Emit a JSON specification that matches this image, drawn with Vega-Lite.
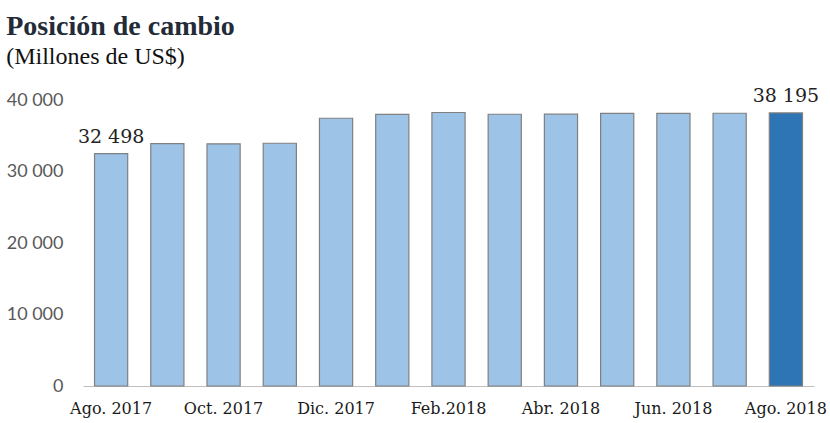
{
  "$schema": "https://vega.github.io/schema/vega-lite/v6.json",
  "width": 731,
  "height": 286,
  "autosize": "none",
  "padding": {"left": 83, "top": 100, "right": 16, "bottom": 37},
  "background": "white",
  "config": {
    "view": {"stroke": null},
    "locale": {
      "number": {"decimal": ",", "thousands": " ", "grouping": [3], "currency": ["", " US$"]}
    }
  },
  "title": {
    "text": "Posición de cambio",
    "subtitle": "(Millones de US$)",
    "anchor": "start",
    "frame": "bounds",
    "font": "Liberation Serif",
    "fontSize": 28,
    "fontWeight": "bold",
    "color": "#232b38",
    "subtitleFont": "Liberation Serif",
    "subtitleFontSize": 24,
    "subtitleColor": "#111111",
    "subtitlePadding": 4,
    "offset": 18
  },
  "data": {
    "values": [
      {"mes": "Ago. 2017", "valor": 32498, "ultimo": false, "etiqueta": true},
      {"mes": "Set. 2017", "valor": 33900, "ultimo": false, "etiqueta": false},
      {"mes": "Oct. 2017", "valor": 33870, "ultimo": false, "etiqueta": false},
      {"mes": "Nov. 2017", "valor": 33950, "ultimo": false, "etiqueta": false},
      {"mes": "Dic. 2017", "valor": 37450, "ultimo": false, "etiqueta": false},
      {"mes": "Ene. 2018", "valor": 38000, "ultimo": false, "etiqueta": false},
      {"mes": "Feb.2018", "valor": 38250, "ultimo": false, "etiqueta": false},
      {"mes": "Mar. 2018", "valor": 38010, "ultimo": false, "etiqueta": false},
      {"mes": "Abr. 2018", "valor": 38020, "ultimo": false, "etiqueta": false},
      {"mes": "May. 2018", "valor": 38140, "ultimo": false, "etiqueta": false},
      {"mes": "Jun. 2018", "valor": 38140, "ultimo": false, "etiqueta": false},
      {"mes": "Jul. 2018", "valor": 38150, "ultimo": false, "etiqueta": false},
      {"mes": "Ago. 2018", "valor": 38195, "ultimo": true, "etiqueta": true}
    ]
  },
  "encoding": {
    "x": {
      "field": "mes",
      "type": "nominal",
      "sort": null,
      "scale": {"paddingInner": 0.41, "paddingOuter": 0.205},
      "axis": {
        "title": null,
        "values": ["Ago. 2017", "Oct. 2017", "Dic. 2017", "Feb.2018", "Abr. 2018", "Jun. 2018", "Ago. 2018"],
        "labelAngle": 0,
        "labelFont": "DejaVu Serif",
        "labelFontSize": 16,
        "labelColor": "#1a1a1a",
        "labelPadding": 14,
        "ticks": false,
        "domainColor": "#bfbfbf",
        "domainWidth": 1.2,
        "grid": false
      }
    },
    "y": {
      "field": "valor",
      "type": "quantitative",
      "scale": {"domain": [0, 40000], "nice": false},
      "axis": {
        "title": null,
        "values": [0, 10000, 20000, 30000, 40000],
        "format": ",.0f",
        "labelFont": "Lato",
        "labelFontSize": 18,
        "labelColor": "#595959",
        "labelPadding": 20,
        "ticks": false,
        "domain": false,
        "grid": false
      }
    }
  },
  "layer": [
    {
      "mark": {"type": "bar", "stroke": "#808080", "strokeWidth": 1.2},
      "encoding": {
        "color": {
          "field": "ultimo",
          "type": "nominal",
          "scale": {"domain": [false, true], "range": ["#9dc3e6", "#2e75b6"]},
          "legend": null
        }
      }
    },
    {
      "transform": [{"filter": "datum.etiqueta"}],
      "mark": {
        "type": "text",
        "font": "DejaVu Serif",
        "fontSize": 19,
        "color": "#222222",
        "baseline": "alphabetic",
        "dy": -11
      },
      "encoding": {
        "text": {"field": "valor", "type": "quantitative", "format": ",.0f"}
      }
    }
  ]
}
